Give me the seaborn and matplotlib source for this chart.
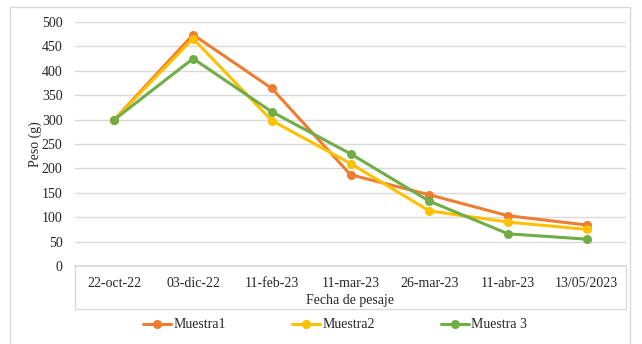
"""
Peso de las muestras por fecha de pesaje.
"""
import matplotlib.pyplot as plt
from matplotlib.lines import Line2D
import pandas as pd
import seaborn as sns

fechas = ["22-oct-22", "03-dic-22", "11-feb-23", "11-mar-23", "26-mar-23", "11-abr-23", "13/05/2023"]
muestra1 = [300, 474, 364, 187, 146, 103, 84]
muestra2 = [300, 466, 298, 210, 113, 90, 75]
muestra3 = [300, 425, 316, 230, 133, 66, 55]
series_names = ["Muestra1", "Muestra2", "Muestra 3"]
colors = ["#ed7d31", "#ffc000", "#70ad47"]

rows = []
for name, vals in zip(series_names, [muestra1, muestra2, muestra3]):
    for f, v in zip(fechas, vals):
        rows.append({"Fecha": f, "Peso": v, "Serie": name})
df = pd.DataFrame(rows)

sns.set_theme(style="white")
plt.rcParams["font.family"] = ["Liberation Serif", "DejaVu Serif"]

fig = plt.figure(figsize=(6.42, 3.44), dpi=100)
ax = fig.add_axes([75 / 642, 1 - 266 / 344, (626 - 75) / 642, (266 - 22) / 344])

sns.lineplot(data=df, x="Fecha", y="Peso", hue="Serie", palette=colors, marker="o",
             markersize=6.5, markeredgewidth=0, linewidth=2.2, sort=False, ax=ax, legend=False)

ax.set_xlim(-0.5, len(fechas) - 0.5)
ax.set_ylim(0, 500)
ax.set_yticks(range(0, 501, 50))
ax.yaxis.grid(True, color="#d9d9d9", linewidth=1)
ax.set_axisbelow(True)
for s in ["top", "left", "right"]:
    ax.spines[s].set_visible(False)
ax.spines["bottom"].set_color("#d9d9d9")
ax.tick_params(axis="both", length=0, labelsize=10, colors="#262626")
ax.tick_params(axis="x", pad=8)
ax.tick_params(axis="y", pad=9)
ax.set_xlabel("Fecha de pesaje", fontsize=10, color="#262626", labelpad=3)
ax.set_ylabel("Peso (g)", fontsize=10, color="#262626")
ax.yaxis.set_label_coords(-0.06, 0.5)

# caja de la tabla del eje x
box_h = (309 - 266) / 244
for xs, ys in [([0, 0], [0, -box_h]), ([1, 1], [0, -box_h]), ([0, 1], [-box_h, -box_h])]:
    ax.add_line(Line2D(xs, ys, transform=ax.transAxes, color="#d9d9d9", linewidth=1, clip_on=False))

# marco del gráfico
fx0, fx1, fy = 10 / 642, 630 / 642, 1 - 7 / 344
for xs, ys in [([fx0, fx0], [0, fy]), ([fx1, fx1], [0, fy]), ([fx0, fx1], [fy, fy])]:
    fig.add_artist(Line2D(xs, ys, transform=fig.transFigure, color="#d9d9d9", linewidth=1))

handles = [Line2D([0], [0], color=c, marker="o", markersize=6.5, markeredgewidth=0, linewidth=2.2)
           for c in colors]
fig.legend(handles, series_names, loc="center", bbox_to_anchor=(0.522, 1 - 325 / 344), ncol=3,
           frameon=False, fontsize=10, handlelength=2.0, handletextpad=0.15, columnspacing=4.8)

fig.savefig("out.png", dpi=100)
